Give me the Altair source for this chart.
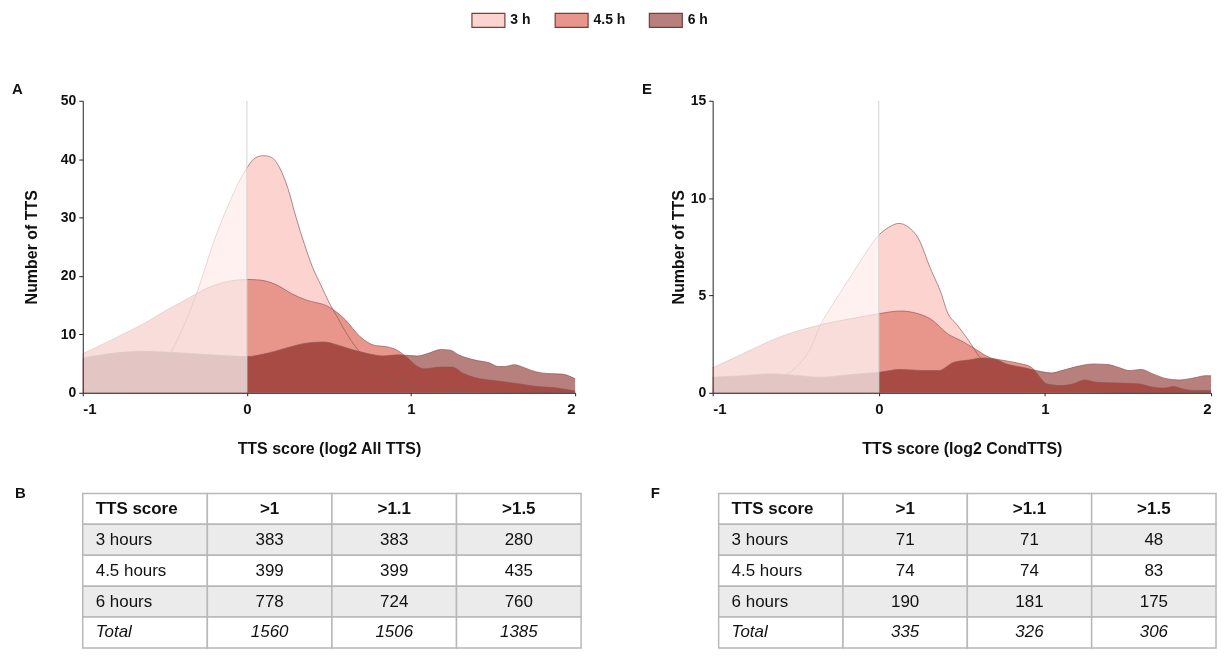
import altair as alt
import pandas as pd

SERIES = ["3 h", "4.5 h", "6 h"]
FILLS = ["#fcd3cf", "#e8968b", "#b8807c"]

# ---------------- Panel A (log2 All TTS) ----------------
A_3h_x = [-1.0, -0.9, -0.8, -0.7, -0.6, -0.5, -0.4, -0.3, -0.2, -0.1, 0.0, 0.05, 0.1, 0.15, 0.2, 0.25, 0.3, 0.35, 0.4, 0.45, 0.5, 0.55, 0.6, 0.7, 0.8, 0.9, 1.0, 1.1, 1.2, 1.3, 1.4, 1.6, 1.8, 2.0]
A_3h_y = [0.6, 0.9, 1.4, 2.0, 3.2, 5.2, 10.5, 17.5, 26, 33, 38.5, 40.2, 40.6, 40.3, 38.5, 35, 30, 25.5, 21.5, 18.5, 15.5, 13, 10.5, 6.5, 3.5, 2.2, 1.5, 1.2, 0.6, 0.4, 0.2, 0.1, 0.05, 0]

A_45h_x = [-1.0, -0.8, -0.6, -0.5, -0.4, -0.2, 0.0, 0.08, 0.2, 0.27, 0.36, 0.5, 0.6, 0.69, 0.78, 0.85, 0.9, 0.97, 1.04, 1.08, 1.18, 1.25, 1.32, 1.39, 1.53, 1.64, 1.76, 1.88, 2.0]
A_45h_y = [6.7, 9.4, 12.3, 14.0, 15.5, 18.4, 19.4, 19.3, 18.2, 17.0, 15.9, 14.7, 12.5, 9.6, 8.1, 7.9, 7.5, 6.2, 4.5, 4.1, 4.4, 4.4, 3.3, 2.6, 2.0, 1.6, 1.1, 0.85, 0.3]

A_6h_x = [-1.0, -0.8, -0.64, -0.45, -0.22, 0.0, 0.13, 0.27, 0.36, 0.47, 0.55, 0.64, 0.74, 0.83, 0.92, 1.04, 1.11, 1.18, 1.24, 1.29, 1.39, 1.48, 1.53, 1.57, 1.63, 1.69, 1.76, 1.83, 1.92, 2.0]
A_6h_y = [5.95, 6.8, 7.1, 6.9, 6.5, 6.2, 6.8, 7.9, 8.5, 8.7, 8.2, 7.4, 6.7, 6.3, 6.5, 6.3, 6.8, 7.4, 7.3, 6.5, 5.6, 5.1, 4.5, 4.5, 4.8, 4.3, 3.6, 3.3, 3.2, 2.4]

# ---------------- Panel E (log2 CondTTS) ----------------
E_3h_x = [-1.0, -0.82, -0.64, -0.5, -0.41, -0.35, -0.28, -0.19, -0.1, 0.0, 0.06, 0.12, 0.18, 0.24, 0.31, 0.38, 0.41, 0.47, 0.54, 0.61, 0.67, 0.74, 0.88, 1.0, 1.15, 1.3, 1.6, 2.0]
E_3h_y = [0.12, 0.2, 0.63, 1.3, 2.3, 3.5, 4.5, 5.7, 6.9, 8.1, 8.5, 8.7, 8.5, 7.9, 6.4, 5.0, 4.2, 3.5, 2.7, 1.8, 1.3, 0.8, 0.55, 0.4, 0.2, 0.05, 0.0, 0.0]

E_45h_x = [-1.0, -0.82, -0.6, -0.37, -0.14, 0.0, 0.13, 0.22, 0.31, 0.42, 0.49, 0.58, 0.67, 0.76, 0.85, 0.92, 0.97, 1.01, 1.1, 1.17, 1.24, 1.31, 1.44, 1.56, 1.65, 1.72, 1.77, 1.83, 1.9, 2.0]
E_45h_y = [1.28, 2.0, 2.85, 3.45, 3.85, 4.06, 4.2, 4.1, 3.8, 3.0, 2.7, 2.25, 1.8, 1.65, 1.5, 1.3, 0.8, 0.46, 0.37, 0.46, 0.66, 0.54, 0.5, 0.46, 0.29, 0.24, 0.32, 0.2, 0.12, 0.12]

E_6h_x = [-1.0, -0.82, -0.64, -0.48, -0.35, -0.19, 0.0, 0.13, 0.27, 0.36, 0.45, 0.54, 0.63, 0.7, 0.76, 0.88, 0.95, 1.04, 1.1, 1.22, 1.29, 1.38, 1.44, 1.51, 1.58, 1.65, 1.74, 1.81, 1.9, 1.97, 2.0]
E_6h_y = [0.8, 0.88, 0.97, 0.88, 0.8, 0.92, 1.05, 1.2, 1.14, 1.14, 1.56, 1.68, 1.79, 1.73, 1.51, 1.28, 1.14, 1.02, 1.14, 1.4, 1.48, 1.45, 1.31, 1.14, 1.2, 0.97, 0.71, 0.66, 0.77, 0.88, 0.87]

# ---------------- Tables ----------------
TABLE_COLS = ["TTS score", ">1", ">1.1", ">1.5"]
TABLE_ROWS = ["3 hours", "4.5 hours", "6 hours", "Total"]
B_gt1 = [383, 399, 778, 1560]
B_gt11 = [383, 399, 724, 1506]
B_gt15 = [280, 435, 760, 1385]
F_gt1 = [71, 74, 190, 335]
F_gt11 = [71, 74, 181, 326]
F_gt15 = [48, 83, 175, 306]

LABEL_FONT = "Liberation Sans"
TITLE_FONT = "Liberation Sans"

cscale = alt.Scale(domain=SERIES, range=FILLS)
legend = alt.Legend(
    title=None, orient="none", legendX=399, legendY=-89, direction="horizontal",
    symbolType="M-2.36,-1H2.36V1H-2.36Z", symbolSize=196,
    symbolStrokeColor="#7b3b3b", symbolStrokeWidth=1.2, symbolOpacity=1,
    labelFont=LABEL_FONT, labelFontSize=14, labelFontWeight="bold", labelColor="#111",
    columnPadding=21.5, labelOffset=14,
)


def density_panel(curves, ymax, ystep, xtitle, label, title_pad, width, height):
    xscale = alt.Scale(domain=[-1, 2], nice=False, zero=False)
    yscale = alt.Scale(domain=[0, ymax], nice=False)
    xaxis = alt.Axis(values=[-1, 0, 1, 2], title=xtitle, labelFontSize=15, tickSize=3,
                     labelPadding=6, titlePadding=23.5, zindex=1, labelExpr="'' + datum.value")
    yaxis = alt.Axis(values=list(range(0, ymax + 1, ystep)), title="Number of TTS", labelFontSize=14,
                     tickSize=4, labelPadding=3, minExtent=23, maxExtent=23,
                     titlePadding=title_pad, zindex=1, labelExpr="'' + datum.value")
    xenc = alt.X("x:Q", scale=xscale, axis=xaxis)
    yenc = alt.Y("y:Q", scale=yscale, axis=yaxis, stack=None)

    layers = []
    for (xs, ys), name in zip(curves, SERIES):
        df = pd.DataFrame({"x": xs, "y": ys, "series": name})
        kw = {"blend": "multiply"} if name == "6 h" else {}
        layers.append(
            alt.Chart(df).mark_area(interpolate="monotone", **kw).encode(
                x=xenc, y=yenc, color=alt.Color("series:N", scale=cscale, legend=legend)
            )
        )
    for (xs, ys), name in zip(curves, SERIES):
        df = pd.DataFrame({"x": xs, "y": ys, "series": name})
        layers.append(
            alt.Chart(df).mark_line(interpolate="monotone", color="#8e5656",
                                    strokeWidth=0.8, opacity=0.85).encode(x=xenc, y=yenc)
        )
    shade = pd.DataFrame({"x": [-1], "x2": [0], "y": [0], "y2": [ymax]})
    layers.append(
        alt.Chart(shade).mark_rect(color="white", opacity=0.68).encode(
            x=xenc, x2="x2:Q", y=yenc, y2="y2:Q")
    )
    rule = pd.DataFrame({"x": [0], "y": [0], "y2": [ymax]})
    layers.append(
        alt.Chart(rule).mark_rule(color="#d4d4d4", strokeWidth=1).encode(
            x=xenc, y=yenc, y2="y2:Q")
    )
    lab = pd.DataFrame({"t": [label]})
    layers.append(
        alt.Chart(lab).mark_text(align="left", baseline="middle", font=LABEL_FONT,
                                 fontSize=15, fontWeight="bold", color="#111").encode(
            x=alt.value(-71), y=alt.value(-12), text="t:N")
    )
    return alt.layer(*layers).properties(width=width, height=height)


def table_panel(c1, c11, c15, label, width, height):
    recs = []
    row_order = ["TTS score"] + TABLE_ROWS
    for c in TABLE_COLS:
        recs.append({"row": "TTS score", "col": c, "text": c, "kind": "head",
                     "first": c == "TTS score", "fill": "#ffffff"})
    for i, r in enumerate(TABLE_ROWS):
        fill = "#ebebeb" if i % 2 == 0 else "#ffffff"
        kind = "total" if r == "Total" else "body"
        vals = [r, str(c1[i]), str(c11[i]), str(c15[i])]
        for c, v in zip(TABLE_COLS, vals):
            recs.append({"row": r, "col": c, "text": v, "kind": kind,
                         "first": c == "TTS score", "fill": fill})
    df = pd.DataFrame(recs)
    xenc = alt.X("col:N", sort=TABLE_COLS, axis=None,
                 scale=alt.Scale(paddingInner=0, paddingOuter=0))
    yenc = alt.Y("row:N", sort=row_order, axis=None,
                 scale=alt.Scale(paddingInner=0, paddingOuter=0))
    base = alt.Chart(df)
    cells = base.mark_rect(stroke="#b8b8b8", strokeWidth=1.5).encode(
        x=xenc, y=yenc, fill=alt.Fill("fill:N", scale=None))
    layers = [cells]
    styles = {"head": ("bold", "normal"), "body": ("normal", "normal"), "total": ("normal", "italic")}
    for kind, (fw, fs) in styles.items():
        layers.append(
            base.transform_filter((alt.datum.kind == kind) & (alt.datum.first == True))
            .mark_text(align="left", baseline="middle", font=LABEL_FONT, fontSize=17,
                       fontWeight=fw, fontStyle=fs, color="#111")
            .encode(x=alt.value(13), y=yenc, text="text:N")
        )
        layers.append(
            base.transform_filter((alt.datum.kind == kind) & (alt.datum.first == False))
            .mark_text(align="center", baseline="middle", font=LABEL_FONT, fontSize=17,
                       fontWeight=fw, fontStyle=fs, color="#111")
            .encode(x=xenc, y=yenc, text="text:N")
        )
    lab = pd.DataFrame({"t": [label]})
    layers.append(
        alt.Chart(lab).mark_text(align="left", baseline="middle", font=LABEL_FONT,
                                 fontSize=15, fontWeight="bold", color="#111").encode(
            x=alt.value(-68), y=alt.value(0), text="t:N")
    )
    return alt.layer(*layers).properties(width=width, height=height)


panel_A = density_panel([(A_3h_x, A_3h_y), (A_45h_x, A_45h_y), (A_6h_x, A_6h_y)],
                        50, 10, "TTS score (log2 All TTS)", "A", 20.5, 494, 293)
panel_E = density_panel([(E_3h_x, E_3h_y), (E_45h_x, E_45h_y), (E_6h_x, E_6h_y)],
                        15, 5, "TTS score (log2 CondTTS)", "E", 3, 500, 293)
table_B = table_panel(B_gt1, B_gt11, B_gt15, "B", 500, 155)
table_F = table_panel(F_gt1, F_gt11, F_gt15, "F", 499, 155)

row1 = alt.hconcat(panel_A, panel_E, spacing=65)
row2 = alt.hconcat(table_B, table_F, spacing=69)

chart = (
    alt.vconcat(row1, row2, spacing=30)
    .properties(padding={"left": 4, "top": 3, "right": 0, "bottom": 0})
    .configure_view(stroke=None)
    .configure_axis(
        grid=False, domainColor="#222", tickColor="#222", labelColor="#111",
        labelFont=LABEL_FONT, labelFontWeight="bold",
        titleFont=TITLE_FONT, titleFontWeight="bold", titleFontSize=16, titleColor="#111",
    )
)

chart.save("out.html", embed_options={"renderer": "svg", "actions": False})
